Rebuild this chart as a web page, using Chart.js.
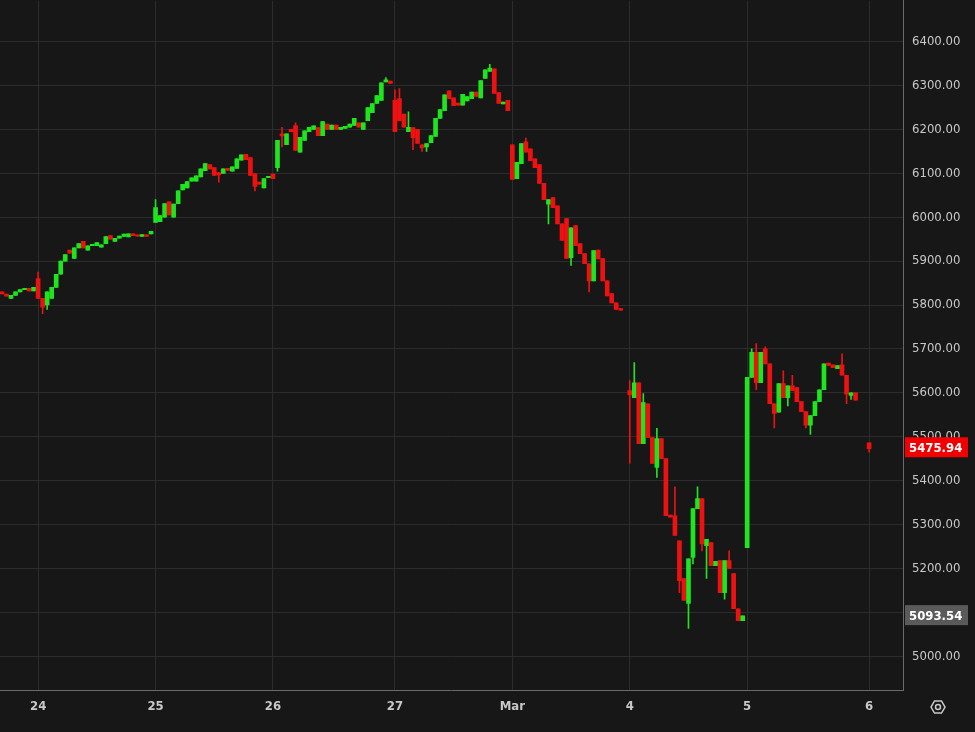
<!DOCTYPE html>
<html>
<head>
<meta charset="utf-8">
<script src="https://cdn.jsdelivr.net/npm/chart.js@4"></script>
<style>
  html, body { margin: 0; padding: 0; background: #171717; overflow: hidden; }
  #wrap { width: 975px; height: 732px; position: relative; overflow: hidden; }
  #c { position: absolute; left: -7px; top: -16px; }
</style>
</head>
<body>
<div id="wrap"><canvas id="c" width="982" height="748"></canvas></div>
<script>
// day labels sit on the first hourly slot of each day
const dayTicks = { 8: '24', 34: '25', 60: '26', 87: '27', 113: 'Mar', 139: '4', 165: '5', 192: '6' };
const slotCount = 200;

// hourly candles, one row per day (null = no trading)
const opens = [
  5830,5825,5815,5822,5830,5835,5838,5832,
  5860,5815,5800,5815,5840,5870,5900,5925,5906,5930,5945,5925,5935,5935,5932,5940,5958,5945,5952,5958,5955,5962,5960,5958,5960,5962,
  5988,5990,6000,6035,6000,6031,6062,6067,6082,6082,6092,6106,6120,6113,6100,6100,6110,6105,6111,6130,6143,6136,6099,6080,6067,6090,
  6098,6113,6190,6165,6200,6209,6148,6175,6195,6200,6204,6186,6212,6200,6210,6200,6202,6205,6209,6215,6200,6220,6238,6259,6266,6308,6310,
  6266,6270,6235,6195,6204,6200,6165,6160,6170,6184,6225,6243,6288,6272,6260,6255,6265,6270,6285,6272,6316,6332,6338,6284,6258,6266,
  6165,6088,6122,6172,6156,6133,6120,6077,6030,6045,6026,5985,5997,5908,5981,5940,5917,5894,5855,5925,5906,5855,5826,5805,5792,null,
  5605,5589,5623,5484,5575,5498,5430,5496,5450,5320,5320,5263,5177,5120,5225,5336,5359,5252,5259,5206,5218,5145,5218,5188,5108,5081,
  5247,5635,5692,5623,5700,5666,5575,5556,5621,5589,5616,5612,5580,5557,5526,5548,5580,5607,5666,5664,5655,5664,5640,5594,5600,null,null,
  5486
];
const closes = [
  5825,5820,5822,5830,5835,5838,5832,5840,
  5815,5795,5830,5840,5870,5900,5915,5918,5930,5940,5930,5935,5938,5942,5937,5956,5950,5952,5957,5960,5962,5958,5957,5959,5956,5968,
  6022,6004,6031,6005,6030,6060,6075,6081,6090,6094,6110,6122,6110,6095,6098,6110,6108,6115,6133,6142,6131,6095,6070,6075,6088,6093,
  6088,6175,6185,6190,6195,6152,6182,6197,6205,6208,6186,6218,6200,6210,6200,6205,6207,6212,6225,6205,6215,6250,6259,6277,6306,6313,6305,
  6195,6220,6205,6205,6181,6168,6158,6168,6186,6225,6245,6279,6270,6254,6255,6280,6275,6285,6275,6311,6336,6340,6282,6259,6262,6243,
  6086,6125,6168,6148,6129,6113,6077,6040,6040,6022,5985,5947,5906,5976,5935,5917,5894,5855,5924,5905,5855,5821,5805,5790,5788,null,
  5595,5623,5484,5578,5498,5439,5496,5450,5320,5318,5275,5172,5127,5222,5336,5359,5256,5266,5206,5216,5145,5218,5200,5108,5081,5092,
  5635,5692,5623,5692,5666,5575,5553,5621,5589,5616,5605,5580,5557,5526,5548,5580,5607,5666,5664,5657,5662,5640,5597,5600,5583,null,null,
  5473
];
// wick extremes that stick out past the body (slot: value)
const highs = { 8: 5875, 34: 6040, 62: 6205, 65: 6215, 85: 6318, 87: 6290, 88: 6293, 90: 6240, 108: 6348, 116: 6180,
  139: 5628, 140: 5669, 142: 5598, 145: 5519, 149: 5386, 154: 5386, 161: 5240, 166: 5700, 167: 5712, 169: 5705, 173: 5650, 175: 5640, 186: 5689 };
const lows = { 9: 5780, 10: 5790, 48: 6080, 56: 6060, 61: 6105, 62: 6160, 91: 6154, 93: 6150, 94: 6150, 121: 5985, 126: 5890, 130: 5830,
  139: 5440, 145: 5407, 150: 5145, 152: 5063, 153: 5210, 155: 5240, 156: 5177, 160: 5130, 167: 5607, 171: 5520, 174: 5570, 178: 5520, 179: 5505, 187: 5575, 188: 5585, 192: 5465 };

const lastPrice = 5475.94;
const prevClose = 5093.54;

const labels = [];
for (let i = 0; i < slotCount; i++) labels.push(dayTicks[i] || '');

const GREEN = '#1ee61e', RED = '#ee1111';
const bodies = [], wicks = [], colors = [];
for (let i = 0; i < slotCount; i++) {
  const o = opens[i], c = closes[i];
  if (o == null || c == null) { bodies.push(null); wicks.push(null); colors.push(GREEN); continue; }
  let lo = Math.min(o, c), hi = Math.max(o, c);
  if (hi - lo < 3) { hi += 1.5; lo -= 1.5; }
  bodies.push([lo, hi]);
  wicks.push([Math.min(lows[i] ?? lo, lo), Math.max(highs[i] ?? hi, hi)]);
  colors.push(c >= o ? GREEN : RED);
}

// price tags on the right axis + settings icon
const priceTags = {
  id: 'priceTags',
  afterDraw(chart) {
    const ctx = chart.ctx, y = chart.scales.y;
    const left = chart.chartArea.right + 2;
    const tags = [[lastPrice, '#f00000'], [prevClose, '#5a5a5a']];
    ctx.save();
    ctx.font = 'bold 13px "DejaVu Sans Condensed", "DejaVu Sans", sans-serif';
    ctx.textBaseline = 'middle';
    tags.forEach(([v, bg]) => {
      const py = y.getPixelForValue(v);
      ctx.fillStyle = bg;
      ctx.fillRect(left, py - 10, 63, 20);
      ctx.fillStyle = '#ffffff';
      ctx.fillText(v.toFixed(2), left + 4, py + 1);
    });
    const cx = chart.chartArea.right + 35, cy = chart.chartArea.bottom + 17;
    ctx.strokeStyle = '#c8c8c8';
    ctx.lineWidth = 1.5;
    ctx.beginPath();
    for (let k = 0; k < 6; k++) {
      const a = Math.PI / 3 * k;
      const px = cx + 7 * Math.cos(a), py = cy + 7 * Math.sin(a);
      k ? ctx.lineTo(px, py) : ctx.moveTo(px, py);
    }
    ctx.closePath();
    ctx.stroke();
    ctx.beginPath();
    ctx.arc(cx, cy, 2.5, 0, Math.PI * 2);
    ctx.stroke();
    ctx.restore();
  }
};

new Chart(document.getElementById('c'), {
  type: 'bar',
  data: {
    labels: labels,
    datasets: [
      { data: wicks, backgroundColor: colors, barThickness: 1, grouped: false, order: 2 },
      { data: bodies, backgroundColor: colors, barThickness: 4, grouped: false, order: 1 }
    ]
  },
  options: {
    responsive: false,
    animation: false,
    layout: { padding: 0 },
    plugins: { legend: { display: false }, tooltip: { enabled: false } },
    scales: {
      x: {
        grid: {
          offset: false,
          drawTicks: false,
          color: ctx => (labels[ctx.index] ? '#2c2c2c' : 'rgba(0,0,0,0)')
        },
        border: { color: '#6a6a6a' },
        ticks: {
          autoSkip: false, maxRotation: 0, padding: 9,
          color: '#c8c8c8',
          font: { family: '"DejaVu Sans Condensed", "DejaVu Sans", sans-serif', size: 13, weight: 'bold' },
          callback: (v, i) => labels[i]
        },
        afterFit: s => { s.height = 42; }
      },
      y: {
        position: 'right',
        min: 4923, max: 6493,
        grid: { color: '#2c2c2c', drawTicks: false },
        border: { color: '#6a6a6a' },
        ticks: {
          stepSize: 100, padding: 9,
          color: '#c8c8c8',
          font: { family: '"DejaVu Sans Condensed", "DejaVu Sans", sans-serif', size: 13 },
          callback: v => v.toFixed(2)
        },
        afterBuildTicks: s => { s.ticks = s.ticks.filter(t => t.value % 100 === 0); },
        afterFit: s => { s.width = 72; }
      }
    }
  },
  plugins: [priceTags]
});
</script>
</body>
</html>
